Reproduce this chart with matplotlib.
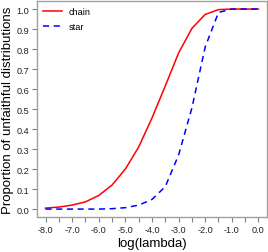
import numpy as np
import matplotlib.pyplot as plt
from matplotlib.ticker import MultipleLocator

log_lambda = [-8.0, -7.5, -7.0, -6.5, -6.0, -5.5, -5.0, -4.5, -4.0,
              -3.5, -3.0, -2.5, -2.0, -1.5, -1.0, -0.5, 0.0]
chain = [0.005, 0.010, 0.020, 0.036, 0.068, 0.120, 0.200, 0.310, 0.455,
         0.615, 0.780, 0.903, 0.973, 0.997, 1.0, 1.0, 1.0]
star = [0.0, 0.0, 0.0, 0.0, 0.0, 0.002, 0.007, 0.020, 0.048,
        0.112, 0.270, 0.505, 0.810, 0.983, 1.0, 1.0, 1.0]
xtick_labels = ["-8.0", "-7.0", "-6.0", "-5.0", "-4.0", "-3.0", "-2.0", "-1.0", "0.0"]

plt.rcParams["font.family"] = ["Liberation Sans", "DejaVu Sans"]

fig = plt.figure(figsize=(2.68, 2.53), dpi=100)
ax = fig.add_axes([0.138, 0.138, 0.858, 0.854])

ax.plot(log_lambda, chain, color="#ff0000", lw=1.1, label="chain")
ax.plot(log_lambda, star, color="#0000ff", lw=1.1, linestyle=(0, (4, 3)), label="star")

ax.set_xlim(-8.32, 0.32)
ax.set_ylim(-0.04, 1.04)
ax.set_xticks(np.arange(-8, 0.5, 1.0))
ax.set_xticklabels(xtick_labels)
ax.xaxis.set_minor_locator(MultipleLocator(0.5))
ax.set_yticks(np.arange(0, 1.05, 0.1))
ax.set_yticklabels([f"{v:.1f}" for v in np.arange(0, 1.05, 0.1)])

for s in ax.spines.values():
    s.set_color("#a0a0a0")
    s.set_linewidth(1.0)
ax.tick_params(which="both", direction="out", color="#808080", width=0.8,
               length=3.5, labelsize=6.6, labelcolor="#222222", pad=2)

ax.set_xlabel("log(lambda)", fontsize=9.5, labelpad=2)
ax.set_ylabel("Proportion of unfaithful distributions", fontsize=9.5, labelpad=2)

ax.legend(loc="upper left", frameon=False, fontsize=6.6, handlelength=2.0,
          handletextpad=0.8, borderaxespad=0.3, labelspacing=0.6)

fig.savefig("out.png", dpi=100)
